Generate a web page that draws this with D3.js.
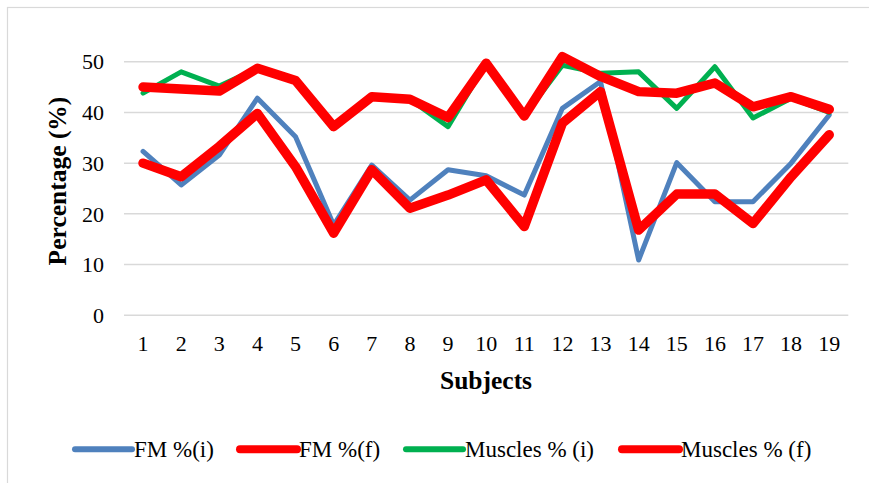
<!DOCTYPE html>
<html>
<head>
<meta charset="utf-8">
<script src="https://cdn.jsdelivr.net/npm/d3@7"></script>
<style>
  html, body { margin: 0; padding: 0; background: #fff; }
  svg { display: block; font-family: "Liberation Serif", "Times New Roman", serif; }
</style>
</head>
<body>
<svg id="chart" width="869" height="483"></svg>
<script>
// Subjects 1..19
const subjects = d3.range(1, 20).map(String);

// Body composition, initial (i) and final (f), in percent
const fmInitial      = [32.3, 25.7, 31.6, 42.8, 35.2, 17.8, 29.6, 22.7, 28.7, 27.5, 23.7, 40.8, 46.1, 10.9, 30.1, 22.4, 22.4, 30.0, 39.5];
const fmFinal        = [30.0, 27.3, 33.3, 39.8, 29.3, 16.2, 28.7, 21.1, 23.7, 26.7, 17.5, 37.9, 44.1, 16.8, 23.9, 23.9, 18.1, 27.3, 35.6];
const musclesInitial = [43.8, 48.0, 45.2, 48.7, 46.3, 37.2, 43.1, 42.6, 37.2, 49.7, 39.3, 49.3, 47.7, 48.0, 40.8, 49.0, 38.9, 42.8, 40.0];
const musclesFinal   = [45.0, 44.6, 44.2, 48.7, 46.3, 37.2, 43.1, 42.6, 39.0, 49.7, 39.3, 51.0, 47.1, 44.1, 43.8, 45.8, 41.1, 43.1, 40.6];

const yTicks = [0, 10, 20, 30, 40, 50];
const seriesNames = ["FM %(i)", "FM %(f)", "Muscles % (i)", "Muscles % (f)"];

const series = [
  { name: seriesNames[0], values: fmInitial,      color: "#4F81BD", width: 5 },
  { name: seriesNames[1], values: fmFinal,        color: "#FF0000", width: 9.5 },
  { name: seriesNames[2], values: musclesInitial, color: "#00B050", width: 5 },
  { name: seriesNames[3], values: musclesFinal,   color: "#FF0000", width: 9.5 }
];

const svg = d3.select("#chart");

// chart frame
svg.append("rect")
  .attr("x", 7.5).attr("y", 7.5)
  .attr("width", 900).attr("height", 500)
  .attr("fill", "none").attr("stroke", "#d9d9d9").attr("stroke-width", 1.2);

const plot = { left: 124, right: 848.3, top: 61.7, bottom: 315.3 };

const x = d3.scaleBand().domain(subjects).range([plot.left, plot.right]).padding(0);
const y = d3.scaleLinear().domain([0, 50]).range([plot.bottom, plot.top]);
const cx = s => x(s) + x.bandwidth() / 2;

// horizontal gridlines
svg.append("g")
  .selectAll("line")
  .data(yTicks)
  .join("line")
  .attr("x1", plot.left).attr("x2", plot.right)
  .attr("y1", d => y(d)).attr("y2", d => y(d))
  .attr("stroke", "#d9d9d9").attr("stroke-width", 1.5);

// y tick labels
svg.append("g")
  .selectAll("text")
  .data(yTicks)
  .join("text")
  .attr("x", 104)
  .attr("y", d => y(d))
  .attr("dy", "0.35em")
  .attr("text-anchor", "end")
  .attr("font-size", 22)
  .attr("fill", "#000")
  .text(d => d);

// x tick labels
svg.append("g")
  .selectAll("text")
  .data(subjects)
  .join("text")
  .attr("x", d => cx(d))
  .attr("y", 351)
  .attr("text-anchor", "middle")
  .attr("font-size", 22)
  .attr("fill", "#000")
  .text(d => d);

// axis titles
svg.append("text")
  .attr("x", 486).attr("y", 389)
  .attr("text-anchor", "middle")
  .attr("font-size", 25.5).attr("font-weight", "bold")
  .text("Subjects");

svg.append("text")
  .attr("transform", "translate(66,181) rotate(-90)")
  .attr("text-anchor", "middle")
  .attr("font-size", 25.5).attr("font-weight", "bold")
  .text("Percentage (%)");

// series lines
const line = d3.line()
  .x((d, i) => cx(subjects[i]))
  .y(d => y(d));

svg.append("g")
  .selectAll("path")
  .data(series)
  .join("path")
  .attr("d", s => line(s.values))
  .attr("fill", "none")
  .attr("stroke", s => s.color)
  .attr("stroke-width", s => s.width)
  .attr("stroke-linejoin", "round")
  .attr("stroke-linecap", "round");

// legend
const legendX = [75, 240, 406, 622];
const legendY = 449.3;
const legend = svg.append("g")
  .selectAll("g")
  .data(series)
  .join("g")
  .attr("transform", (d, i) => `translate(${legendX[i]},${legendY})`);

legend.append("line")
  .attr("x1", 0).attr("x2", 57)
  .attr("y1", 0).attr("y2", 0)
  .attr("stroke", d => d.color)
  .attr("stroke-width", d => d.width === 5 ? 6 : 8)
  .attr("stroke-linecap", "round");

legend.append("text")
  .attr("x", 59)
  .attr("y", 0)
  .attr("dy", "0.35em")
  .attr("font-size", 23)
  .attr("fill", "#000")
  .text(d => d.name);
</script>
</body>
</html>
